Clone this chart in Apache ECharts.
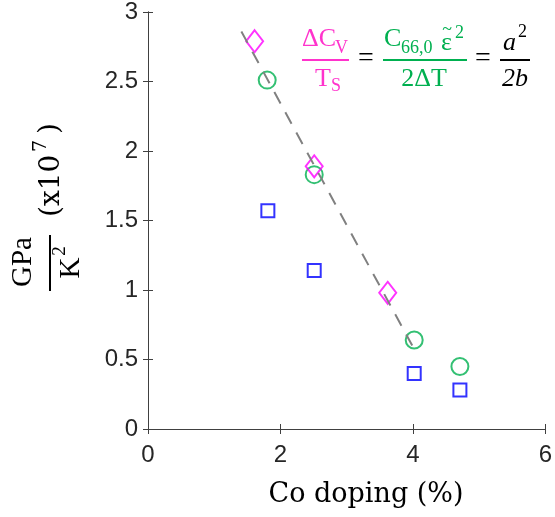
<!DOCTYPE html>
<html>
<head>
<meta charset="utf-8">
<script src="https://cdn.jsdelivr.net/npm/echarts@6/dist/echarts.min.js"></script>
<style>
  html, body { margin: 0; padding: 0; background: #fff; }
  #chart { width: 555px; height: 517px; }
</style>
</head>
<body>
<div id="chart"></div>
<script type="text/javascript">
// data
var squareX = [1.81, 2.51, 4.02, 4.71];
var squareY = [1.57, 1.14, 0.40, 0.28];
var circleX = [1.80, 2.51, 4.02, 4.71];
var circleY = [2.51, 1.83, 0.64, 0.45];
var diamondX = [1.61, 2.51, 3.62];
var diamondY = [2.79, 1.89, 0.98];
var fitX = [1.41, 3.99];
var fitY = [2.86, 0.60];
var xTicks = [0, 2, 4, 6];
var yTicks = [0, 0.5, 1, 1.5, 2, 2.5, 3];

function pairs(xs, ys) {
  return xs.map(function (x, i) { return [x, ys[i]]; });
}

var axisColor = '#404040';
var serif = 'Liberation Serif';
var pink = '#ff33cc';
var green = '#00b050';

function txt(s, x, y, size, color, opts) {
  opts = opts || {};
  return {
    type: 'text', x: x, y: y, rotation: opts.rot || 0, z: 100,
    style: {
      text: s, fill: color || '#000',
      font: (opts.italic ? 'italic ' : '') + size + 'px "' + (opts.family || serif) + '"',
      align: opts.align || 'left', verticalAlign: 'middle'
    }
  };
}
function bar(x1, y1, x2, y2, color) {
  return {
    type: 'line', z: 100,
    shape: { x1: x1, y1: y1, x2: x2, y2: y2 },
    style: { stroke: color, lineWidth: 2 }
  };
}

var chart = echarts.init(document.getElementById('chart'));

var axisCommon = {
  axisLine: { show: true, lineStyle: { color: axisColor, width: 1 } },
  axisTick: { show: true, inside: true, length: 5, lineStyle: { color: axisColor } },
  splitLine: { show: false }
};
var labelStyle = { color: '#262626', fontSize: 24, fontFamily: 'Liberation Sans' };

var option = {
  animation: false,
  grid: { left: 148, right: 6, top: 12, bottom: 88 },
  xAxis: [
    Object.assign({ type: 'value', min: 0, max: 6, interval: 2, position: 'bottom',
      axisLabel: Object.assign({ margin: 14 }, labelStyle) }, axisCommon),
    Object.assign({ type: 'value', min: 0, max: 6, interval: 2, position: 'top',
      axisLabel: { show: false } }, axisCommon)
  ],
  yAxis: [
    Object.assign({ type: 'value', min: 0, max: 3, interval: 0.5, position: 'left',
      axisLabel: Object.assign({ margin: 10 }, labelStyle) }, axisCommon),
    Object.assign({ type: 'value', min: 0, max: 3, interval: 0.5, position: 'right',
      axisLabel: { show: false } }, axisCommon)
  ],
  series: [
    {
      type: 'scatter', data: pairs(squareX, squareY),
      symbol: 'rect', symbolSize: 13,
      itemStyle: { color: 'transparent', borderColor: '#0000ff', borderWidth: 2 }
    },
    {
      type: 'scatter', data: pairs(circleX, circleY),
      symbol: 'circle', symbolSize: 17,
      itemStyle: { color: 'transparent', borderColor: green, borderWidth: 2 }
    },
    {
      type: 'scatter', data: pairs(diamondX, diamondY),
      symbol: 'diamond', symbolSize: [17, 22],
      itemStyle: { color: 'transparent', borderColor: '#ff00ff', borderWidth: 2 }
    },
    {
      type: 'line', data: pairs(fitX, fitY), showSymbol: false,
      lineStyle: { color: '#808080', width: 2, type: [13, 10] }
    }
  ],
  graphic: [
    // x axis title
    txt('Co doping (%)', 366, 495, 27, '#000', { align: 'center', family: 'DejaVu Serif' }),
    // y axis title, rotated
    txt('GPa', 23, 262, 29, '#000', { align: 'center', rot: Math.PI / 2 }),
    bar(50, 235, 50, 291, '#000'),
    txt('K', 71, 268, 29, '#000', { align: 'center', rot: Math.PI / 2 }),
    txt('2', 60, 251, 19, '#000', { align: 'center', rot: Math.PI / 2 }),
    txt('(x10', 52, 217, 28, '#000', { rot: Math.PI / 2, family: 'DejaVu Serif' }),
    txt('7', 41, 152, 19, '#000', { rot: Math.PI / 2, family: 'DejaVu Serif' }),
    txt(')', 51, 134, 28, '#000', { rot: Math.PI / 2, family: 'DejaVu Serif' }),
    // equation: pink fraction
    txt('\u0394C', 302, 39, 26, pink),
    txt('V', 335, 48, 18, pink),
    bar(302, 60, 349, 60, pink),
    txt('T', 315, 79, 26, pink),
    txt('S', 331, 86, 18, pink),
    txt('=', 366, 59, 28, '#000', { align: 'center' }),
    // green fraction
    txt('C', 384, 39, 26, green),
    txt('66,0', 401, 48, 18, green),
    txt('\u03b5', 441, 43, 26, green),
    txt('~', 447, 30, 18, green, { align: 'center' }),
    txt('2', 455, 33, 18, green),
    bar(383, 60, 467, 60, green),
    txt('2\u0394T', 424, 79, 26, green, { align: 'center' }),
    txt('=', 483, 59, 28, '#000', { align: 'center' }),
    // black fraction
    txt('a', 503, 43, 26, '#000', { italic: true }),
    txt('2', 518, 32, 18, '#000'),
    bar(500, 60, 530, 60, '#000'),
    txt('2b', 515, 79, 26, '#000', { align: 'center', italic: true })
  ]
};

chart.setOption(option);
</script>
</body>
</html>
